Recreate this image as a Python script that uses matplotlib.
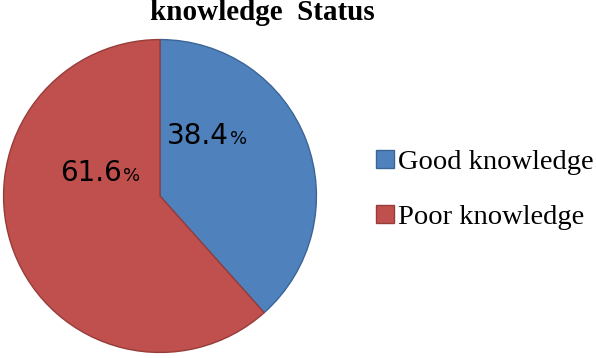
import matplotlib
matplotlib.use('Agg')
import matplotlib.pyplot as plt

# --- data ---
labels = ["Good knowledge", "Poor knowledge"]
values = [38.4, 61.6]
colors = ["#4F81BD", "#C0504D"]
edges = ["#3A6596", "#963C3A"]

W, H = 596, 358
fig = plt.figure(figsize=(W / 100, H / 100), dpi=100)

# pie axes placed in pixel terms: centre (160, 196 from top), radius 158
cx, cy, r = 160, 196, 158
ax = fig.add_axes([(cx - r) / W, (H - cy - r) / H, 2 * r / W, 2 * r / H])

wedges, _ = ax.pie(values, colors=colors, startangle=90, counterclock=False,
                   radius=1.0, wedgeprops=dict(linewidth=1.0))
for w, ec in zip(wedges, edges):
    w.set_edgecolor(ec)
ax.set_xlim(-1.01, 1.01)
ax.set_ylim(-1.01, 1.01)
ax.set_aspect("equal")
ax.axis("off")

# percentage labels: big number, smaller % sign
def pct_label(x_px, y_px, val):
    t = fig.text(x_px / W, 1 - y_px / H, f"{val}", fontsize=20,
                 family="DejaVu Sans", ha="left", va="baseline")
    fig.canvas.draw()
    bb = t.get_window_extent()
    fig.text((bb.x1 + 1) / W, 1 - y_px / H, "%", fontsize=13,
             family="DejaVu Sans", ha="left", va="baseline")

pct_label(167, 144, values[0])
pct_label(60, 181, values[1])

# title
fig.text(262 / W, 1 - 20 / H, "knowledge  Status", fontsize=21, fontweight="bold",
         family="Liberation Serif", ha="center", va="baseline")

# legend
leg = fig.legend(wedges, labels, loc="center left",
                 bbox_to_anchor=(365 / W, 1 - 190 / H),
                 frameon=False, prop=dict(family="Liberation Serif", size=20.5),
                 handlelength=0.62, handleheight=0.62, handletextpad=0.15,
                 labelspacing=1.05, borderaxespad=0)

fig.savefig("out.png", dpi=100)
